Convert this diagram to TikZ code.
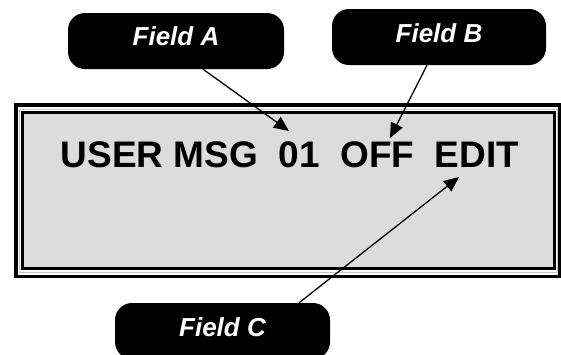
\documentclass[tikz,border=0pt]{standalone}
\usepackage{fontspec}
\setmainfont{Liberation Sans}
\usetikzlibrary{arrows.meta}
\definecolor{lcdgray}{gray}{0.863}
\tikzset{
  fieldbox/.style={fill=black, rounded corners=17pt, minimum height=56pt, inner sep=0pt},
  fieldtext/.style={text=white, font=\fontsize{26}{31}\selectfont\bfseries\itshape, inner sep=0pt},
  pointer/.style={line width=1.3pt, -{Triangle[length=15pt,width=13pt]}},
}
\begin{document}
\begin{tikzpicture}[x=1pt,y=-1pt]
\useasboundingbox (0,0) rectangle (561,354);
% frame
\draw[line width=3.5pt] (16,105) rectangle (560,276.5);
\draw[line width=1pt, gray!45] (19.5,109) rectangle (557,272.5);
\draw[line width=3pt, fill=lcdgray] (22.5,112.5) rectangle (554.5,268.5);
% display text
\node[font=\fontsize{37}{44}\selectfont\bfseries, anchor=base, inner sep=0pt] (msg) at (290,167)
  {USER MSG\ \ 01\ \ OFF\ \ EDIT};
% field boxes
\node[fieldbox, minimum width=216pt] (fa) at (176,41) {};
\node[fieldtext] (fat) at ([yshift=5pt]fa.center) {Field A};
\node[fieldbox, minimum width=214pt] (fb) at (439,37) {};
\node[fieldtext] (fbt) at ([yshift=4pt]fb.center) {Field B};
\node[fieldbox, minimum width=215pt] (fc) at (222.5,331) {};
\node[fieldtext] (fct) at ([yshift=4pt]fc.center) {Field C};
% arrow tips
\coordinate (ta) at (289,131);
\coordinate (tb) at (390,138);
\coordinate (tc) at (459,177);
\draw[pointer] (fa.south -| 203,0) -- (ta);
\draw[pointer] (fb.south -| 427,0) -- (tb);
\draw[pointer] (fc.north -| 299,0) -- (tc);
\end{tikzpicture}
\end{document}
